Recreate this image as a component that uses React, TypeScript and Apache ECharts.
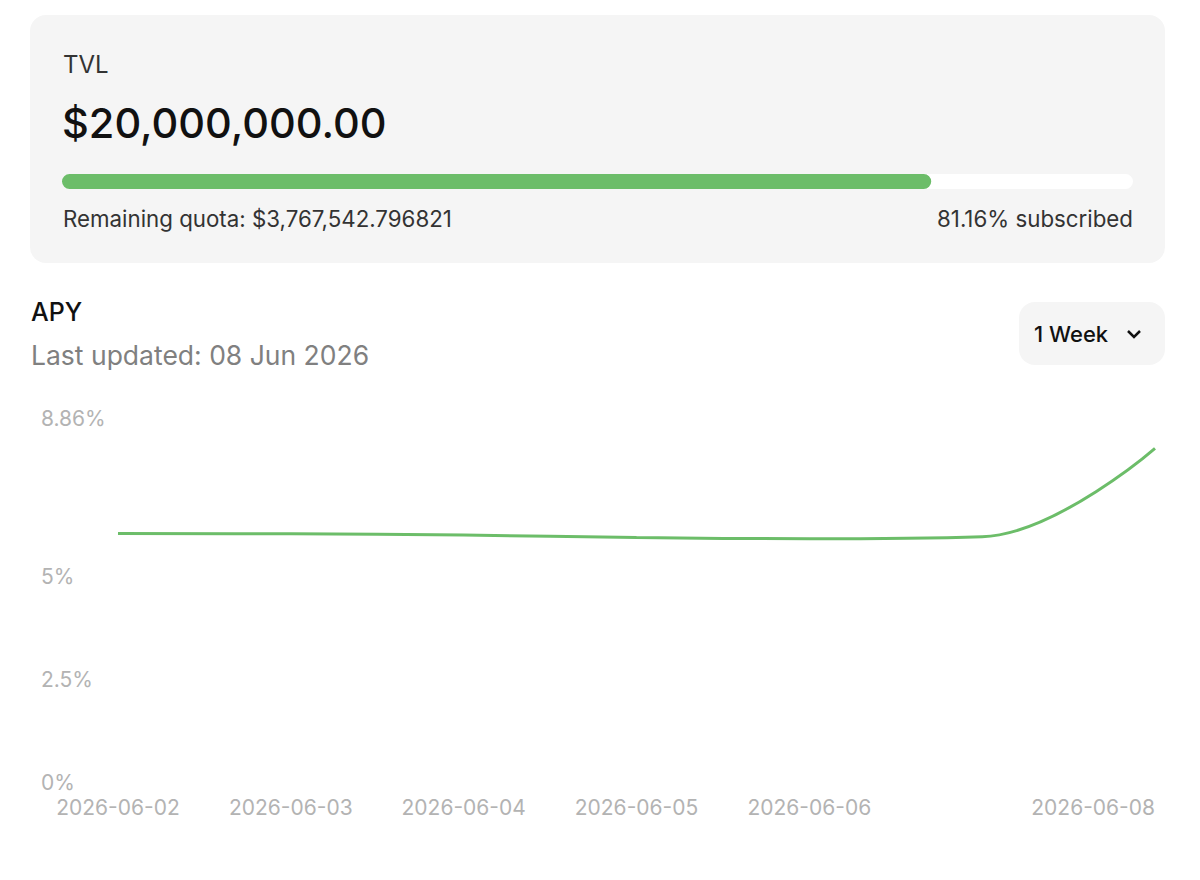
import React, { useEffect, useRef } from "react";
import * as echarts from "echarts";

// ---- data ----
const tvlLabel = "TVL";
const tvlValue = "$20,000,000.00";
const remainingQuota = "$3,767,542.796821";
const subscribedPct = 81.16;

const apyTitle = "APY";
const lastUpdated = "08 Jun 2026";
const rangeLabel = "1 Week";

const dates = [
  "2026-06-02",
  "2026-06-03",
  "2026-06-04",
  "2026-06-05",
  "2026-06-06",
  "2026-06-07",
  "2026-06-08",
];
const apyValues = [6.05, 6.04, 6.01, 5.95, 5.92, 5.97, 8.12];
const yTickValues = [0, 2.5, 5, 8.86];
const yMax = 8.86;
const hiddenDateIndex = 5;

const GREEN = "#6cbd69";
const FONT = "Inter, 'Noto Sans', sans-serif";

export default function App() {
  const ref = useRef<HTMLDivElement | null>(null);

  useEffect(() => {
    if (!ref.current) return;
    const chart = echarts.init(ref.current, undefined, { renderer: "svg" });
    chart.setOption({
      animation: false,
      backgroundColor: "#ffffff",
      textStyle: { fontFamily: FONT },
      graphic: [
        {
          type: "rect",
          z: -10,
          shape: { x: 30, y: 15, width: 1135, height: 248, r: 16 },
          style: { fill: "#f5f5f5" },
        },
        {
          type: "text",
          x: 63,
          y: 64,
          style: {
            text: tvlLabel,
            fontFamily: FONT,
            fontSize: 24,
            fill: "#333333",
            verticalAlign: "middle",
          },
        },
        {
          type: "text",
          x: 62,
          y: 123,
          style: {
            text: tvlValue,
            fontFamily: FONT,
            fontSize: 41.5,
            fontWeight: 500,
            fill: "#111111",
            verticalAlign: "middle",
          },
        },
        {
          type: "text",
          x: 63,
          y: 218,
          style: {
            text: "Remaining quota: " + remainingQuota,
            fontFamily: FONT,
            fontSize: 22.3,
            fill: "#333333",
            verticalAlign: "middle",
          },
        },
        {
          type: "text",
          x: 1133,
          y: 218,
          style: {
            text: subscribedPct.toFixed(2) + "% subscribed",
            fontFamily: FONT,
            fontSize: 22.3,
            fill: "#333333",
            align: "right",
            verticalAlign: "middle",
          },
        },
        {
          type: "text",
          x: 31,
          y: 312,
          style: {
            text: apyTitle,
            fontFamily: FONT,
            fontSize: 25,
            fontWeight: 500,
            fill: "#111111",
            verticalAlign: "middle",
          },
        },
        {
          type: "text",
          x: 31,
          y: 355,
          style: {
            text: "Last updated: " + lastUpdated,
            fontFamily: FONT,
            fontSize: 26.5,
            fill: "#808080",
            verticalAlign: "middle",
          },
        },
        {
          type: "rect",
          shape: { x: 1019, y: 302, width: 146, height: 63, r: 16 },
          style: { fill: "#f5f5f5" },
        },
        {
          type: "text",
          x: 1034,
          y: 334,
          style: {
            text: rangeLabel,
            fontFamily: FONT,
            fontSize: 22,
            fontWeight: 500,
            fill: "#111111",
            verticalAlign: "middle",
          },
        },
        {
          type: "polyline",
          shape: {
            points: [
              [1128, 331],
              [1134, 337],
              [1140, 331],
            ],
          },
          style: { stroke: "#111111", lineWidth: 2.5, fill: null },
        },
      ],
      grid: [
        { left: 118, right: 45, top: 418, bottom: 98 },
        { left: 62, right: 67, top: 174, height: 15 },
      ],
      xAxis: [
        {
          type: "category",
          gridIndex: 0,
          data: dates,
          boundaryGap: false,
          axisLine: { show: false },
          axisTick: { show: false },
          splitLine: { show: false },
          axisLabel: {
            color: "#b3b3b3",
            fontSize: 21,
            fontFamily: FONT,
            margin: 15,
            interval: (index: number) => index !== hiddenDateIndex,
            alignMaxLabel: "right",
          },
        },
        {
          type: "value",
          gridIndex: 1,
          min: 0,
          max: 100,
          show: false,
        },
      ],
      yAxis: [
        {
          type: "value",
          gridIndex: 0,
          min: 0,
          max: yMax,
          axisLine: { show: false },
          axisTick: { show: false },
          splitLine: { show: false },
          axisLabel: {
            customValues: yTickValues,
            formatter: (v: number) => `${v}%`,
            color: "#b3b3b3",
            fontSize: 21,
            fontFamily: FONT,
            align: "left",
            margin: 77,
          },
        },
        {
          type: "category",
          gridIndex: 1,
          data: ["subscribed"],
          show: false,
        },
      ],
      series: [
        {
          type: "line",
          xAxisIndex: 0,
          yAxisIndex: 0,
          data: apyValues,
          smooth: 0.4,
          showSymbol: false,
          symbol: "none",
          lineStyle: { color: GREEN, width: 3 },
        },
        {
          type: "bar",
          xAxisIndex: 1,
          yAxisIndex: 1,
          data: [subscribedPct],
          barWidth: 15,
          itemStyle: { color: GREEN, borderRadius: 8 },
          showBackground: true,
          backgroundStyle: { color: "#ffffff", borderRadius: 8 },
        },
      ],
    });
    return () => chart.dispose();
  }, []);

  return (
    <div
      ref={ref}
      style={{ position: "absolute", left: 0, top: 0, width: 1200, height: 880 }}
    />
  );
}
